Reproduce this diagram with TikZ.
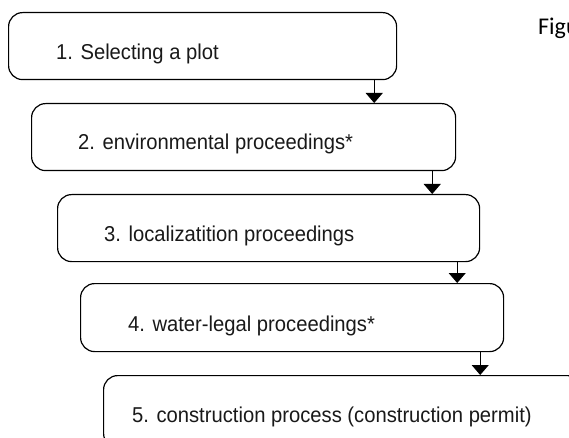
\documentclass[tikz,border=0pt]{standalone}
\usepackage{fontspec}
\setmainfont{Liberation Sans}
\newfontfamily\stepfont[FakeStretch=0.94]{Liberation Sans}
\newfontfamily\captionfont{Carlito}
\usetikzlibrary{arrows.meta}

\tikzset{
  stepbox/.style={draw=black, line width=1.2pt, rounded corners=14pt,
    anchor=north west, inner sep=0pt, minimum height=67pt},
  steptext/.style={anchor=base west, inner sep=0pt,
    font=\stepfont\fontsize{21.5pt}{25pt}\selectfont, text=black!90},
  flow/.style={line width=1pt, -{Triangle[width=17pt,length=10pt]}}
}

\begin{document}
\begin{tikzpicture}[x=1pt, y=-1pt]
  \useasboundingbox (0,0) rectangle (569,438);
  \clip (0,0) rectangle (569,438);

  % the five stages, each shifted right of the previous one
  \node[stepbox, minimum width=388pt] (b1) at (8,12) {};
  \node[stepbox, minimum width=424pt] (b2) at (31,103) {};
  \node[stepbox, minimum width=422pt] (b3) at (57,194) {};
  \node[stepbox, minimum width=423pt, minimum height=68pt] (b4) at (80,283) {};
  \node[stepbox, minimum width=478pt, minimum height=72pt] (b5) at (103,375) {};

  \node[steptext] (t1) at ([xshift=48pt,yshift=-48pt]b1.north west) {1. Selecting a plot};
  \node[steptext] (t2) at ([xshift=47pt,yshift=-47pt]b2.north west) {2. environmental proceedings*};
  \node[steptext] (t3) at ([xshift=47pt,yshift=-47pt]b3.north west) {3. localizatition proceedings};
  \node[steptext] (t4) at ([xshift=48pt,yshift=-48pt]b4.north west) {4. water-legal proceedings*};
  \node[steptext] (t5) at ([xshift=29pt,yshift=-47pt]b5.north west) {5. construction process (construction permit)};

  % connectors near the right end of each box
  \coordinate (a1) at ([xshift=-23pt]b1.south east);
  \coordinate (a2) at ([xshift=-24pt]b2.south east);
  \coordinate (a3) at ([xshift=-23pt]b3.south east);
  \coordinate (a4) at ([xshift=-24pt]b4.south east);
  \draw[flow] (a1) -- (a1 |- b2.north);
  \draw[flow] (a2) -- (a2 |- b3.north);
  \draw[flow] (a3) -- (a3 |- b4.north);
  \draw[flow] (a4) -- (a4 |- b5.north);

  \node[anchor=base west, inner sep=0pt, font=\captionfont\fontsize{24pt}{28pt}\selectfont] (fig) at (538,35) {Figu};
\end{tikzpicture}
\end{document}
